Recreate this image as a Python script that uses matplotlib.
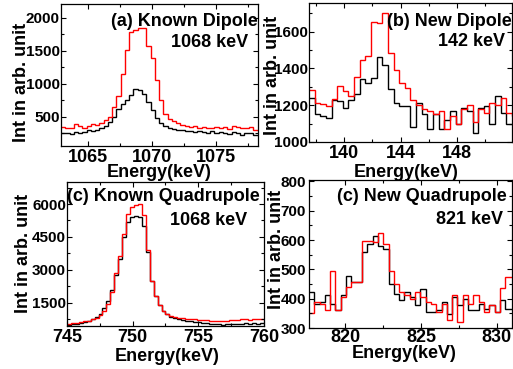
import numpy as np
import matplotlib
matplotlib.use("Agg")
import matplotlib.pyplot as plt
from matplotlib.ticker import MultipleLocator

plt.rcParams['font.family'] = ['Liberation Sans', 'DejaVu Sans']
plt.rcParams['font.weight'] = 'bold'

# ---------------- data ----------------
# (a) Known Dipole 1068 keV
a_start, a_width = 1062.9, 1.0 / 3.0
a_red = [345, 330, 340, 390, 365, 340, 370, 395, 380, 410, 450, 500, 650, 820, 1150,
         1520, 1790, 1820, 1840, 1850, 1570, 1390, 1060, 760, 540, 470, 440, 410, 380,
         370, 350, 360, 340, 345, 330, 340, 345, 330, 350, 320, 360, 355, 340, 330, 350,
         310, 300]
a_black = [255, 250, 245, 270, 255, 265, 300, 280, 310, 330, 370, 420, 500, 620, 700,
           760, 840, 930, 910, 850, 720, 600, 480, 410, 360, 340, 320, 300, 310, 290,
           280, 270, 285, 265, 260, 280, 250, 270, 260, 245, 270, 255, 230, 260, 250,
           220, 230]

# (b) New Dipole 142 keV
b_start, b_width = 137.5, 0.4
b_red = [1280, 1210, 1205, 1195, 1235, 1305, 1275, 1250, 1355, 1445, 1465, 1650, 1645,
         1700, 1485, 1390, 1320, 1295, 1230, 1200, 1180, 1170, 1150, 1170, 1070, 1140,
         1100, 1180, 1200, 1110, 1180, 1160, 1210, 1200, 1240, 1160, 1140]
b_black = [1240, 1150, 1140, 1130, 1230, 1225, 1185, 1230, 1260, 1340, 1320, 1345, 1460,
           1420, 1290, 1210, 1195, 1195, 1080, 1210, 1150, 1070, 1150, 1070, 1120, 1170,
           1100, 1185, 1170, 1050, 1185, 1195, 1100, 1250, 1160, 1100, 1100]

# (c) Known Quadrupole 1068 keV
c_start, c_width = 745.0, 0.3
c_red = [560, 580, 600, 640, 660, 700, 760, 820, 930, 1150, 1450, 2000, 2850, 3650, 4650,
         5550, 5850, 5950, 6020, 5500, 3900, 2500, 1800, 1400, 1150, 1000, 920, 870, 830,
         800, 780, 760, 750, 740, 730, 720, 700, 690, 680, 680, 700, 720, 710, 740, 760,
         750, 740, 780, 750, 760]
c_black = [500, 520, 560, 600, 640, 700, 760, 880, 1000, 1250, 1600, 2100, 2750, 3500,
           4500, 5200, 5400, 5450, 5400, 5000, 3800, 2500, 1800, 1400, 1150, 980, 880, 800,
           760, 720, 690, 660, 640, 620, 600, 580, 560, 540, 520, 500, 520, 540, 550, 530,
           560, 570, 560, 580, 560, 570]

# (d) New Quadrupole 821 keV
d_start, d_width = 817.6, 0.35
d_red = [351, 388, 383, 363, 496, 363, 405, 439, 456, 456, 598, 598, 592, 623, 587, 496,
         451, 422, 411, 400, 422, 405, 388, 383, 354, 383, 326, 411, 320, 411, 383, 411,
         388, 354, 377, 354, 436, 473, 473]
d_black = [422, 383, 388, 411, 383, 360, 411, 479, 456, 456, 558, 587, 615, 581, 570, 451,
           417, 394, 422, 405, 377, 434, 354, 354, 360, 388, 349, 405, 377, 400, 360, 360,
           383, 366, 377, 354, 394, 366, 366]

titles = ["(a) Known Dipole", "(b) New Dipole", "(c) Known Quadrupole", "(c) New Quadrupole"]
energies = ["1068 keV", "142 keV", "1068 keV", "821 keV"]

# ---------------- figure ----------------
fig = plt.figure(figsize=(5.13, 3.69), dpi=100)

panels = [
    dict(rect=[0.1189, 0.6043, 0.3840, 0.3848], start=a_start, width=a_width, red=a_red, black=a_black,
         xlim=(1062.9, 1078.3), ylim=(60, 2210), xmaj=5, xmin=2.5, ymaj=500, ymin=250,
         ylab=(-0.203, 0.45), xlab=(0.5, -0.19), t1=(1.0, 0.88), t2=(0.95, 0.73), ypad=0.8, xpad=2),
    dict(rect=[0.6023, 0.6152, 0.3957, 0.3767], start=b_start, width=b_width, red=b_red, black=b_black,
         xlim=(137.5, 151.9), ylim=(1000, 1755), xmaj=4, xmin=2, ymaj=200, ymin=100,
         ylab=(-0.182, 0.48), xlab=(0.48, -0.216), t1=(1.0, 0.87), t2=(0.966, 0.72), ypad=0.8, xpad=2),
    dict(rect=[0.1306, 0.1165, 0.3840, 0.3902], start=c_start, width=c_width, red=c_red, black=c_black,
         xlim=(745, 760), ylim=(450, 7000), xmaj=5, xmin=2.5, ymaj=1500, ymin=750,
         ylab=(-0.22, 0.507), xlab=(0.51, -0.215), t1=(0.0, 0.90), t2=(0.914, 0.736), ypad=0.8, xpad=2),
    dict(rect=[0.6023, 0.1111, 0.3957, 0.4011], start=d_start, width=d_width, red=d_red, black=d_black,
         xlim=(817.6, 831.0), ylim=(300, 805), xmaj=5, xmin=2.5, ymaj=100, ymin=50,
         ylab=(-0.158, 0.53), xlab=(0.47, -0.175), t1=(0.975, 0.89), t2=(0.956, 0.73), ypad=2.0, xpad=0.5),
]

for i, p in enumerate(panels):
    ax = fig.add_axes(p['rect'])
    n = len(p['red'])
    edges = p['start'] + p['width'] * np.arange(n + 1)
    ax.stairs(p['black'], edges, color='black', lw=1.0, baseline=None)
    ax.stairs(p['red'], edges, color='#ff0000', lw=1.0, baseline=None)
    ax.set_xlim(*p['xlim'])
    ax.set_ylim(*p['ylim'])
    ax.xaxis.set_major_locator(MultipleLocator(p['xmaj']))
    ax.xaxis.set_minor_locator(MultipleLocator(p['xmin']))
    ax.yaxis.set_major_locator(MultipleLocator(p['ymaj']))
    ax.yaxis.set_minor_locator(MultipleLocator(p['ymin']))
    ax.tick_params(which='both', direction='in', top=True, right=True, width=0.8)
    ax.tick_params(which='major', length=3.5)
    ax.tick_params(which='minor', length=2)
    ax.tick_params(axis='x', which='major', labelsize=13, pad=p['xpad'])
    ax.tick_params(axis='y', which='major', labelsize=11, pad=p['ypad'])
    for lab in ax.get_xticklabels() + ax.get_yticklabels():
        lab.set_fontweight('bold')
    for s in ax.spines.values():
        s.set_linewidth(0.9)
    ax.set_ylabel("Int in arb. unit", fontsize=13, fontweight='bold', va='center')
    ax.yaxis.set_label_coords(*p['ylab'])
    ax.set_xlabel("Energy(keV)", fontsize=13, fontweight='bold', va='center')
    ax.xaxis.set_label_coords(*p['xlab'])
    ha1 = 'left' if i == 2 else 'right'
    ax.text(p['t1'][0], p['t1'][1], titles[i], transform=ax.transAxes, fontsize=13,
            fontweight='bold', ha=ha1, va='center', clip_on=False)
    ax.text(p['t2'][0], p['t2'][1], energies[i], transform=ax.transAxes, fontsize=13,
            fontweight='bold', ha='right', va='center')

fig.savefig("out.png", dpi=100)
